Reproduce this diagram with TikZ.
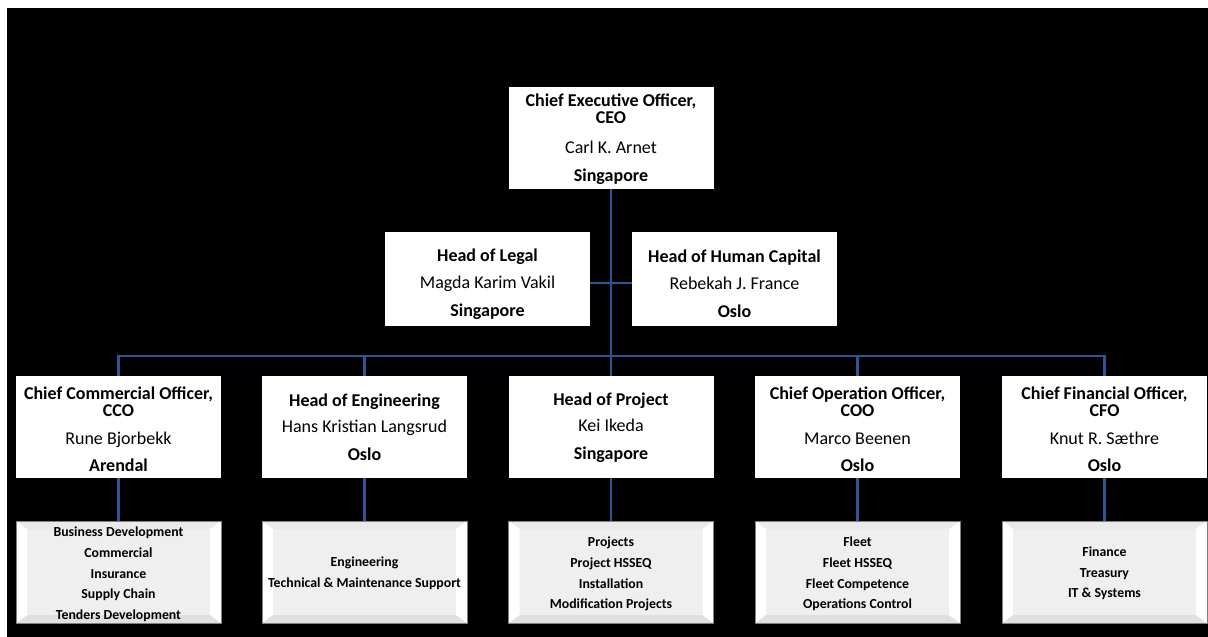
\documentclass[tikz,border=0pt]{standalone}
\usepackage{fontspec}
\setmainfont{Carlito}
\definecolor{linkblue}{HTML}{2F5597}
\definecolor{subfill}{HTML}{EFEFEF}
\definecolor{subdraw}{HTML}{7F7F7F}
\definecolor{subtop}{HTML}{EAEAEA}
\definecolor{subbot}{HTML}{E0E0E0}
\begin{document}
\begin{tikzpicture}[x=1pt,y=-1pt,
  rolebox/.style={fill=white, minimum width=205pt, minimum height=102pt, inner sep=0pt},
  smallrole/.style={rolebox, minimum height=94pt},
  roletext/.style={align=center, inner sep=0pt, font=\fontsize{18}{17}\selectfont},
  unitbox/.style={fill=subfill, draw=subdraw, line width=0.8pt, minimum width=205pt, minimum height=102pt,
    inner sep=0pt,
    path picture={
      \fill[subtop] (path picture bounding box.north west) -- ([xshift=11pt,yshift=-8pt]path picture bounding box.north west)
        -- ([xshift=-11pt,yshift=-8pt]path picture bounding box.north east) -- (path picture bounding box.north east) -- cycle;
      \fill[subbot] (path picture bounding box.south west) -- ([xshift=11pt,yshift=8pt]path picture bounding box.south west)
        -- ([xshift=-11pt,yshift=8pt]path picture bounding box.south east) -- (path picture bounding box.south east) -- cycle;
      \fill[white] (path picture bounding box.north west) -- ([xshift=11pt,yshift=-8pt]path picture bounding box.north west)
        -- ([xshift=11pt,yshift=8pt]path picture bounding box.south west) -- (path picture bounding box.south west) -- cycle;
      \fill[white] (path picture bounding box.north east) -- ([xshift=-11pt,yshift=-8pt]path picture bounding box.north east)
        -- ([xshift=-11pt,yshift=8pt]path picture bounding box.south east) -- (path picture bounding box.south east) -- cycle;
    }},
  unittext/.style={align=center, inner sep=0pt, font=\fontsize{13.8}{20.7}\selectfont\bfseries},
  link/.style={draw=linkblue, line width=2.4pt}
]
\useasboundingbox (0,0) rectangle (1208,637);
\fill[black] (7,8) rectangle (1208,637);

% top level
\node[rolebox] (ceo) at (611,138) {};
\node[roletext] (ceot) at ([yshift=-1.5pt]ceo.center) {\textbf{Chief Executive Officer,}\\\textbf{CEO}\\[13pt]Carl K. Arnet\\[11pt]\textbf{Singapore}};
\node[smallrole] (legal) at (487.5,279) {};
\node[roletext] (legalt) at ([yshift=-5pt]legal.center) {\textbf{Head of Legal}\\[10pt]Magda Karim Vakil\\[11pt]\textbf{Singapore}};
\node[smallrole] (hc) at (734.5,279) {};
\node[roletext] (hct) at ([yshift=-5pt]hc.center) {\textbf{Head of Human Capital}\\[10pt]Rebekah J. France\\[11pt]\textbf{Oslo}};

% second level
\node[rolebox] (cco) at (118.5,427) {};
\node[roletext] (ccot) at ([yshift=-2.5pt]cco.center) {\textbf{Chief Commercial Officer,}\\\textbf{CCO}\\[11pt]Rune Bjorbekk\\[10pt]\textbf{Arendal}};
\node[rolebox] (eng) at (364.5,427) {};
\node[roletext] (engt) at (eng.center) {\textbf{Head of Engineering}\\[9pt]Hans Kristian Langsrud\\[11pt]\textbf{Oslo}};
\node[rolebox] (proj) at (611,427) {};
\node[roletext] (projt) at ([yshift=-1pt]proj.center) {\textbf{Head of Project}\\[9pt]Kei Ikeda\\[11pt]\textbf{Singapore}};
\node[rolebox] (coo) at (857.5,427) {};
\node[roletext] (coot) at ([yshift=-2.5pt]coo.center) {\textbf{Chief Operation Officer,}\\\textbf{COO}\\[11pt]Marco Beenen\\[10pt]\textbf{Oslo}};
\node[rolebox] (cfo) at (1104.5,427) {};
\node[roletext] (cfot) at ([yshift=-2.5pt]cfo.center) {\textbf{Chief Financial Officer,}\\\textbf{CFO}\\[11pt]Knut R. Sæthre\\[10pt]\textbf{Oslo}};

% units
\node[unitbox] (ccou) at (118.5,572) {};
\node[unittext] (ccout) at ([yshift=-2.5pt]ccou.center) {Business Development\\Commercial\\Insurance\\Supply Chain\\Tenders Development};
\node[unitbox] (engu) at (364.5,572) {};
\node[unittext] (engut) at ([yshift=-1.5pt]engu.center) {Engineering\\Technical \& Maintenance Support};
\node[unitbox] (proju) at (611,572) {};
\node[unittext] (projut) at ([yshift=-2pt]proju.center) {Projects\\Project HSSEQ\\Installation\\Modification Projects};
\node[unitbox] (coou) at (857.5,572) {};
\node[unittext] (coout) at ([yshift=-2pt]coou.center) {Fleet\\Fleet HSSEQ\\Fleet Competence\\Operations Control};
\node[unitbox] (cfou) at (1104.5,572) {};
\node[unittext] (cfout) at ([yshift=-1.5pt]cfou.center) {Finance\\Treasury\\IT \& Systems};

% connectors
\coordinate (bus) at (611,356);
\draw[link] (ceo.south) -- (proj.north);
\draw[link] ([yshift=-4pt]legal.east) -- ([yshift=-4pt]hc.west);
\draw[link] (cco.north) -- (cco.north |- bus) -- (cfo.north |- bus) -- (cfo.north);
\draw[link] (eng.north) -- (eng.north |- bus);
\draw[link] (coo.north) -- (coo.north |- bus);
\draw[link] (cco.south) -- (ccou.north);
\draw[link] (eng.south) -- (engu.north);
\draw[link] (proj.south) -- (proju.north);
\draw[link] (coo.south) -- (coou.north);
\draw[link] (cfo.south) -- (cfou.north);
\end{tikzpicture}
\end{document}
